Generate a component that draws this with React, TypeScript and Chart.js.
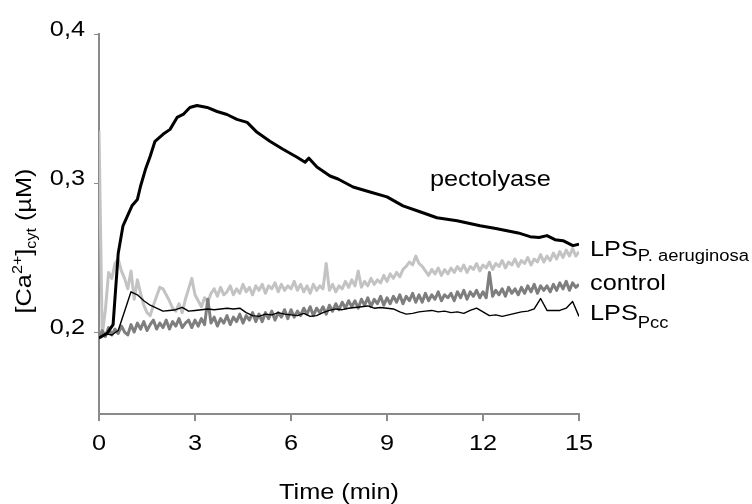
import React, { useEffect, useRef } from 'react';
import { Chart, registerables } from 'chart.js';

Chart.register(...registerables);

// ---------- data ----------
const X_TICKS = [0, 3, 6, 9, 12, 15];
const Y_TICKS = [0.2, 0.3, 0.4];
const Y_TICK_LABELS = ['0,2', '0,3', '0,4'];
const X_TITLE = 'Time (min)';

const FINE_STEP = 0.1; // min, control & LPS P. aeruginosa sampling
const PCC_STEP = 0.2; // min, LPS Pcc sampling

const PECT_T = [0, 0.25, 0.44, 0.6, 0.75, 1.03, 1.2, 1.3, 1.45, 1.6, 1.75, 2.0, 2.22, 2.44, 2.63, 2.84, 3.06, 3.38, 3.69, 4.0, 4.31, 4.63, 4.94, 5.34, 5.75, 6.19, 6.44, 6.56, 6.81, 7.22, 7.47, 7.94, 8.47, 9.0, 9.5, 10.03, 10.56, 11.19, 11.91, 12.4, 12.75, 13.1, 13.47, 13.75, 14.0, 14.25, 14.5, 14.81, 15];
const PECT_V = [0.196, 0.199, 0.205, 0.2527, 0.2713, 0.2847, 0.289, 0.298, 0.309, 0.318, 0.328, 0.3327, 0.336, 0.344, 0.346, 0.3507, 0.352, 0.3507, 0.348, 0.346, 0.3427, 0.3407, 0.334, 0.328, 0.3227, 0.3173, 0.314, 0.3167, 0.3107, 0.3047, 0.3027, 0.2973, 0.294, 0.2907, 0.2847, 0.2807, 0.2767, 0.2747, 0.2713, 0.2695, 0.268, 0.2665, 0.264, 0.2635, 0.2647, 0.262, 0.2613, 0.258, 0.259];

const PCC_V = [
  0.196, 0.199, 0.198, 0.201, 0.214, 0.227, 0.225, 0.221, 0.218, 0.216,
  0.214, 0.2145, 0.215, 0.2165, 0.214, 0.2145, 0.215, 0.2155, 0.215, 0.2155,
  0.216, 0.2155, 0.216, 0.213, 0.211, 0.2105, 0.212, 0.2115, 0.213, 0.212,
  0.2115, 0.211, 0.2125, 0.2105, 0.211, 0.213, 0.2145, 0.2155, 0.215, 0.216,
  0.2165, 0.217, 0.2175, 0.216, 0.2165, 0.216, 0.2155, 0.2135, 0.212, 0.2125,
  0.2135, 0.214, 0.2145, 0.2135, 0.214, 0.213, 0.2135, 0.2125, 0.2145, 0.216,
  0.2135, 0.211, 0.2115, 0.2105, 0.2115, 0.2125, 0.2135, 0.214, 0.2155, 0.2225,
  0.2145, 0.2145, 0.2145, 0.216, 0.2205, 0.2105,
];

const CONTROL_V = [
  0.196, 0.201, 0.197, 0.203, 0.198, 0.202, 0.199, 0.204, 0.200, 0.198,
  0.205, 0.200, 0.206, 0.202, 0.207, 0.201, 0.205, 0.208, 0.202, 0.206,
  0.203, 0.208, 0.202, 0.207, 0.204, 0.209, 0.203, 0.206, 0.208, 0.203,
  0.208, 0.204, 0.209, 0.205, 0.222, 0.206, 0.210, 0.204, 0.209, 0.206,
  0.211, 0.205, 0.210, 0.207, 0.212, 0.206, 0.211, 0.208, 0.213, 0.207,
  0.212, 0.207, 0.213, 0.209, 0.214, 0.208, 0.213, 0.210, 0.215, 0.209,
  0.215, 0.210, 0.214, 0.211, 0.216, 0.212, 0.217, 0.211, 0.216, 0.213,
  0.217, 0.212, 0.218, 0.214, 0.219, 0.215, 0.220, 0.216, 0.221, 0.217,
  0.221, 0.216, 0.222, 0.218, 0.223, 0.217, 0.222, 0.219, 0.224, 0.218,
  0.223, 0.219, 0.224, 0.220, 0.225, 0.219, 0.224, 0.221, 0.226, 0.220,
  0.225, 0.220, 0.226, 0.221, 0.225, 0.222, 0.227, 0.221, 0.225, 0.223,
  0.226, 0.221, 0.227, 0.223, 0.228, 0.222, 0.227, 0.224, 0.228, 0.223,
  0.227, 0.223, 0.240, 0.224, 0.228, 0.225, 0.229, 0.224, 0.230, 0.226,
  0.229, 0.225, 0.230, 0.226, 0.231, 0.227, 0.232, 0.226, 0.231, 0.228,
  0.231, 0.227, 0.232, 0.228, 0.233, 0.229, 0.234, 0.228, 0.233, 0.230,
  0.232,
];

const PAER_V = [
  0.335, 0.198, 0.215, 0.240, 0.236, 0.246, 0.249, 0.241, 0.236, 0.229,
  0.241, 0.222, 0.235, 0.226, 0.218, 0.213, 0.211, 0.218, 0.224, 0.230,
  0.229, 0.225, 0.221, 0.216, 0.214, 0.219, 0.213, 0.222, 0.229, 0.236,
  0.225, 0.221, 0.217, 0.223, 0.220, 0.226, 0.229, 0.224, 0.230, 0.225,
  0.227, 0.231, 0.225, 0.229, 0.226, 0.232, 0.227, 0.230, 0.225, 0.231,
  0.228, 0.232, 0.226, 0.231, 0.229, 0.233, 0.227, 0.232, 0.228, 0.231,
  0.229, 0.234, 0.228, 0.232, 0.227, 0.231, 0.226, 0.232, 0.228, 0.231,
  0.229, 0.246, 0.228, 0.232, 0.227, 0.231, 0.229, 0.234, 0.230, 0.235,
  0.231, 0.241, 0.230, 0.234, 0.231, 0.236, 0.232, 0.235, 0.233, 0.238,
  0.234, 0.239, 0.236, 0.240, 0.237, 0.242, 0.244, 0.247, 0.245, 0.251,
  0.246, 0.244, 0.241, 0.238, 0.242, 0.239, 0.243, 0.238, 0.242, 0.239,
  0.243, 0.240, 0.244, 0.241, 0.245, 0.240, 0.244, 0.242, 0.246, 0.241,
  0.245, 0.243, 0.247, 0.242, 0.246, 0.244, 0.248, 0.243, 0.247, 0.245,
  0.249, 0.244, 0.248, 0.246, 0.250, 0.245, 0.249, 0.247, 0.252, 0.247,
  0.251, 0.248, 0.253, 0.249, 0.254, 0.250, 0.255, 0.251, 0.256, 0.251,
  0.254,
];

// ---------- drawing helpers ----------
const FONT = '"Liberation Sans", Arial, sans-serif';
const SX = 1.15; // horizontal stretch of the original lettering
const FS = 22; // main font size
const FS_SUB = 16; // sub/superscript size
const AXIS_GREY = '#8a8a8a';

function textW(ctx: CanvasRenderingContext2D, text: string, size: number) {
  ctx.font = `${size}px ${FONT}`;
  return ctx.measureText(text).width * SX;
}

function drawStretched(ctx: CanvasRenderingContext2D, text: string, x: number, y: number, size: number, align: 'left' | 'center' | 'right' = 'left') {
  const w = textW(ctx, text, size);
  let x0 = x;
  if (align === 'center') x0 = x - w / 2;
  if (align === 'right') x0 = x - w;
  ctx.save();
  ctx.font = `${size}px ${FONT}`;
  ctx.textAlign = 'left';
  ctx.textBaseline = 'alphabetic';
  ctx.fillStyle = '#000';
  ctx.translate(x0, y);
  ctx.scale(SX, 1);
  ctx.fillText(text, 0, 0);
  ctx.restore();
  return w;
}

const textPlugin = {
  id: 'textPlugin',
  afterDraw(chart: any) {
    const ctx: CanvasRenderingContext2D = chart.ctx;
    const xs = chart.scales.x;
    const ys = chart.scales.y;
    const area = chart.chartArea;

    // tick labels
    xs.ticks.forEach((t: any) => {
      drawStretched(ctx, String(t.value), xs.getPixelForValue(t.value), area.bottom + 36, FS, 'center');
    });
    ys.ticks.forEach((t: any) => {
      const i = Y_TICKS.indexOf(t.value);
      drawStretched(ctx, Y_TICK_LABELS[i], area.left - 14, ys.getPixelForValue(t.value) + 2, FS, 'right');
    });

    // x title
    drawStretched(ctx, X_TITLE, (area.left + area.right) / 2, area.bottom + 85, FS, 'center');

    // y title, rotated
    ctx.save();
    ctx.translate(31, 241);
    ctx.rotate(-Math.PI / 2);
    const segs: [string, number, number][] = [
      ['[Ca', FS, 0],
      ['2+', 14, -9],
      [']', FS, 0],
      ['cyt', 14, 5],
      [' (\u00b5M)', FS, 0],
    ];
    let total = 0;
    segs.forEach(([s, sz]) => (total += textW(ctx, s, sz)));
    let cx = -total / 2;
    segs.forEach(([s, sz, dy]) => {
      cx += drawStretched(ctx, s, cx, dy, sz, 'left');
    });
    ctx.restore();

    // series labels
    const lx = area.right + 11;
    drawStretched(ctx, 'pectolyase', xs.getPixelForValue(10.34), ys.getPixelForValue(0.298), FS, 'left');
    const yPa = ys.getPixelForValue(0.2507);
    let w = drawStretched(ctx, 'LPS', lx, yPa, FS, 'left');
    drawStretched(ctx, 'P. aeruginosa', lx + w, yPa + 5, FS_SUB, 'left');
    drawStretched(ctx, 'control', lx, ys.getPixelForValue(0.228), FS, 'left');
    const yPcc = ys.getPixelForValue(0.208);
    w = drawStretched(ctx, 'LPS', lx, yPcc, FS, 'left');
    drawStretched(ctx, 'Pcc', lx + w, yPcc + 8, FS_SUB, 'left');
  },
};

export default function App() {
  const ref = useRef<HTMLCanvasElement>(null);
  useEffect(() => {
    const line = { pointRadius: 0, tension: 0, fill: false, borderJoinStyle: 'round' as const };
    const chart = new Chart(ref.current!, {
      type: 'line',
      data: {
        datasets: [
          { ...line, label: 'pectolyase', data: PECT_T.map((t, i) => ({ x: t, y: PECT_V[i] })), borderColor: '#000000', borderWidth: 3, order: 1 },
          { ...line, label: 'LPS Pcc', data: PCC_V.map((v, i) => ({ x: i * PCC_STEP, y: v })), borderColor: '#000000', borderWidth: 1.4, order: 2 },
          { ...line, label: 'control', data: CONTROL_V.map((v, i) => ({ x: i * FINE_STEP, y: v })), borderColor: '#7e7e7e', borderWidth: 3, order: 3 },
          { ...line, label: 'LPS P. aeruginosa', data: PAER_V.map((v, i) => ({ x: i * FINE_STEP, y: v })), borderColor: '#c3c3c3', borderWidth: 3, order: 4 },
        ],
      },
      options: {
        animation: false,
        responsive: false,
        layout: { padding: { left: 0, top: 34, right: 173, bottom: 0 } },
        plugins: { legend: { display: false }, tooltip: { enabled: false } },
        scales: {
          x: {
            type: 'linear',
            min: 0,
            max: 15,
            afterBuildTicks: (axis: any) => { axis.ticks = X_TICKS.map((v) => ({ value: v })); },
            afterFit: (axis: any) => { axis.height = 90; },
            ticks: { display: false },
            grid: { drawOnChartArea: false, drawTicks: true, tickLength: 7, color: AXIS_GREY, lineWidth: 2 },
            border: { display: true, color: AXIS_GREY, width: 2 },
          },
          y: {
            type: 'linear',
            min: 0.145,
            max: 0.4,
            afterBuildTicks: (axis: any) => { axis.ticks = Y_TICKS.map((v) => ({ value: v })); },
            afterFit: (axis: any) => { axis.width = 99; },
            ticks: { display: false },
            grid: { drawOnChartArea: false, drawTicks: true, tickLength: 5, color: AXIS_GREY, lineWidth: 1 },
            border: { display: true, color: AXIS_GREY, width: 2 },
          },
        },
      },
      plugins: [textPlugin],
    });
    return () => chart.destroy();
  }, []);
  return (
    <div style={{ position: 'absolute', left: 0, top: 0, width: 752, height: 504, background: '#fff' }}>
      <canvas ref={ref} width={752} height={504} style={{ display: 'block' }} />
    </div>
  );
}
